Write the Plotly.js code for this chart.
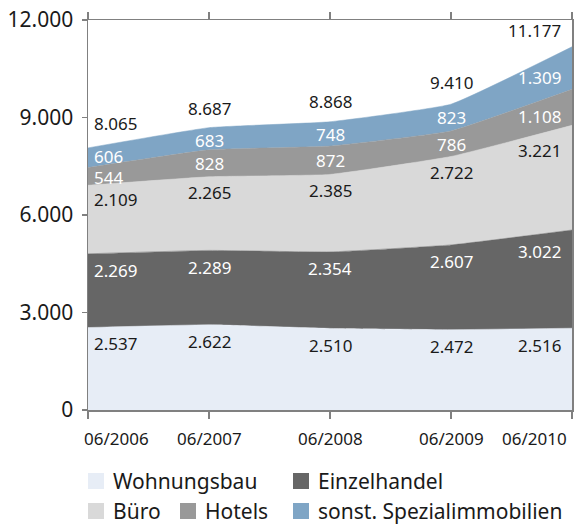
<!DOCTYPE html>
<html>
<head>
<meta charset="utf-8">
<script src="https://cdn.plot.ly/plotly-3.0.1.min.js"></script>
<style>html,body{margin:0;padding:0;background:#fff;}#chart{width:576px;height:524px;}</style>
</head>
<body>
<div id="chart"></div>
<script>
// ---- data ----
const periods = ['06/2006', '06/2007', '06/2008', '06/2009', '06/2010'];
const seriesNames = ['Wohnungsbau', 'Einzelhandel', 'Büro', 'Hotels', 'sonst. Spezialimmobilien'];
const wohnungsbau = [2537, 2622, 2510, 2472, 2516];
const einzelhandel = [2269, 2289, 2354, 2607, 3022];
const buero = [2109, 2265, 2385, 2722, 3221];
const hotels = [544, 828, 872, 786, 1108];
const sonst = [606, 683, 748, 823, 1309];
const totals = [8065, 8687, 8868, 9410, 11177];
const yTicks = [0, 3000, 6000, 9000, 12000];

// ---- style ----
const colors = ['#e7edf6', '#666666', '#d9d9d9', '#999999', '#7fa5c5'];
const labelColors = ['#1a1a1a', '#ffffff', '#1a1a1a', '#ffffff', '#ffffff'];
const labelDrop = [17, 17, 16, 14, 13];   // px below band top
const FONT = 'Noto Sans, Open Sans, sans-serif';
const W = 576, H = 524, ML = 88, MR = 4, MT = 20, MB = 114;
const PW = W - ML - MR, PH = H - MT - MB;
const px2x = p => (p - ML) / PW;
const px2y = p => (MT + PH - p) / PH;

const fmt = v => String(v).replace(/\B(?=(\d{3})+(?!\d))/g, '.');

const seriesVals = [wohnungsbau, einzelhandel, buero, hotels, sonst];
const xIdx = periods.map((_, i) => i);

const traces = seriesVals.map((vals, s) => ({
  type: 'scatter', mode: 'lines', x: xIdx, y: vals,
  name: seriesNames[s], stackgroup: 'one',
  line: {width: 0.5, color: colors[s], shape: 'spline', smoothing: 0.35},
  fillcolor: colors[s], hoverinfo: 'skip', showlegend: false
}));

// cumulative tops
const cum = [];
seriesVals.forEach((vals, s) => {
  cum.push(vals.map((v, i) => v + (s > 0 ? cum[s - 1][i] : 0)));
});
function interp(arr, x) {
  const i0 = Math.min(Math.floor(x), arr.length - 2);
  const f = x - i0;
  return arr[i0] + (arr[i0 + 1] - arr[i0]) * f;
}
const n = periods.length;
const anchorX = i => (i === 0 ? 0.22 : (i === n - 1 ? n - 1.31 : i));
const textPos = i => (i === 0 ? {xanchor: 'left', xshift: 4} : (i === n - 1 ? {xanchor: 'right', xshift: -9} : {xanchor: 'center', xshift: 0}));
const totalShift = [24, 19, 20, 22, 16];

const annotations = [];
seriesVals.forEach((vals, s) => {
  vals.forEach((v, i) => {
    const tp = textPos(i);
    annotations.push({
      x: i, y: interp(cum[s], anchorX(i)), xref: 'x', yref: 'y',
      text: fmt(v), showarrow: false, xanchor: tp.xanchor, xshift: tp.xshift,
      yanchor: 'middle', yshift: -labelDrop[s],
      font: {family: FONT, size: 17, color: labelColors[s]}
    });
  });
});
totals.forEach((v, i) => {
  const tp = textPos(i);
  annotations.push({
    x: i, y: cum[cum.length - 1][i], xref: 'x', yref: 'y',
    text: fmt(v), showarrow: false, xanchor: tp.xanchor, xshift: tp.xshift,
    yanchor: 'middle', yshift: totalShift[i],
    font: {family: FONT, size: 17, color: '#1a1a1a'}
  });
});
// period tick labels
periods.forEach((p, i) => {
  const tp = i === 0 ? {xanchor: 'left', xshift: -6} : (i === n - 1 ? {xanchor: 'right', xshift: -3} : {xanchor: 'center', xshift: 0});
  annotations.push({
    x: i, y: px2y(438), xref: 'x', yref: 'paper', text: p, showarrow: false,
    xanchor: tp.xanchor, xshift: tp.xshift, yanchor: 'middle',
    font: {family: FONT, size: 17, color: '#1a1a1a'}
  });
});

// manual legend
const legendPos = [[88, 481], [293, 481], [88, 511], [180, 511], [293, 511]];
const shapes = [];
seriesNames.forEach((name, s) => {
  const [lx, ly] = legendPos[s];
  shapes.push({
    type: 'rect', xref: 'paper', yref: 'paper',
    x0: px2x(lx), x1: px2x(lx + 16), y0: px2y(ly + 8), y1: px2y(ly - 8),
    fillcolor: colors[s], line: {width: 0}
  });
  annotations.push({
    x: px2x(lx + 23), y: px2y(ly), xref: 'paper', yref: 'paper', text: name,
    showarrow: false, xanchor: 'left', yanchor: 'middle',
    font: {family: FONT, size: 21, color: '#1a1a1a'}
  });
});

const layout = {
  width: W, height: H,
  margin: {l: ML, r: MR, t: MT, b: MB, pad: 0},
  paper_bgcolor: '#ffffff', plot_bgcolor: '#ffffff',
  separators: ',.',
  showlegend: false,
  font: {family: FONT, color: '#1a1a1a'},
  xaxis: {
    type: 'linear', range: [0, n - 1], tickvals: xIdx, showticklabels: false,
    ticks: 'outside', ticklen: 7, tickwidth: 1.5, tickcolor: '#808080',
    showline: true, linecolor: '#808080', linewidth: 1.5, mirror: 'ticks',
    showgrid: false, zeroline: false, fixedrange: true
  },
  yaxis: {
    range: [0, 12000], tickvals: yTicks, tickformat: ',d',
    ticks: 'outside', ticklen: 5, tickwidth: 1.5, tickcolor: '#808080',
    showline: true, linecolor: '#808080', linewidth: 1.5, mirror: true,
    showgrid: false, zeroline: false, fixedrange: true,
    tickfont: {family: FONT, size: 21, color: '#1a1a1a'}, ticklabelstandoff: 4
  },
  annotations: annotations,
  shapes: shapes
};

Plotly.newPlot('chart', traces, layout, {displayModeBar: false, staticPlot: true});
</script>
</body>
</html>
